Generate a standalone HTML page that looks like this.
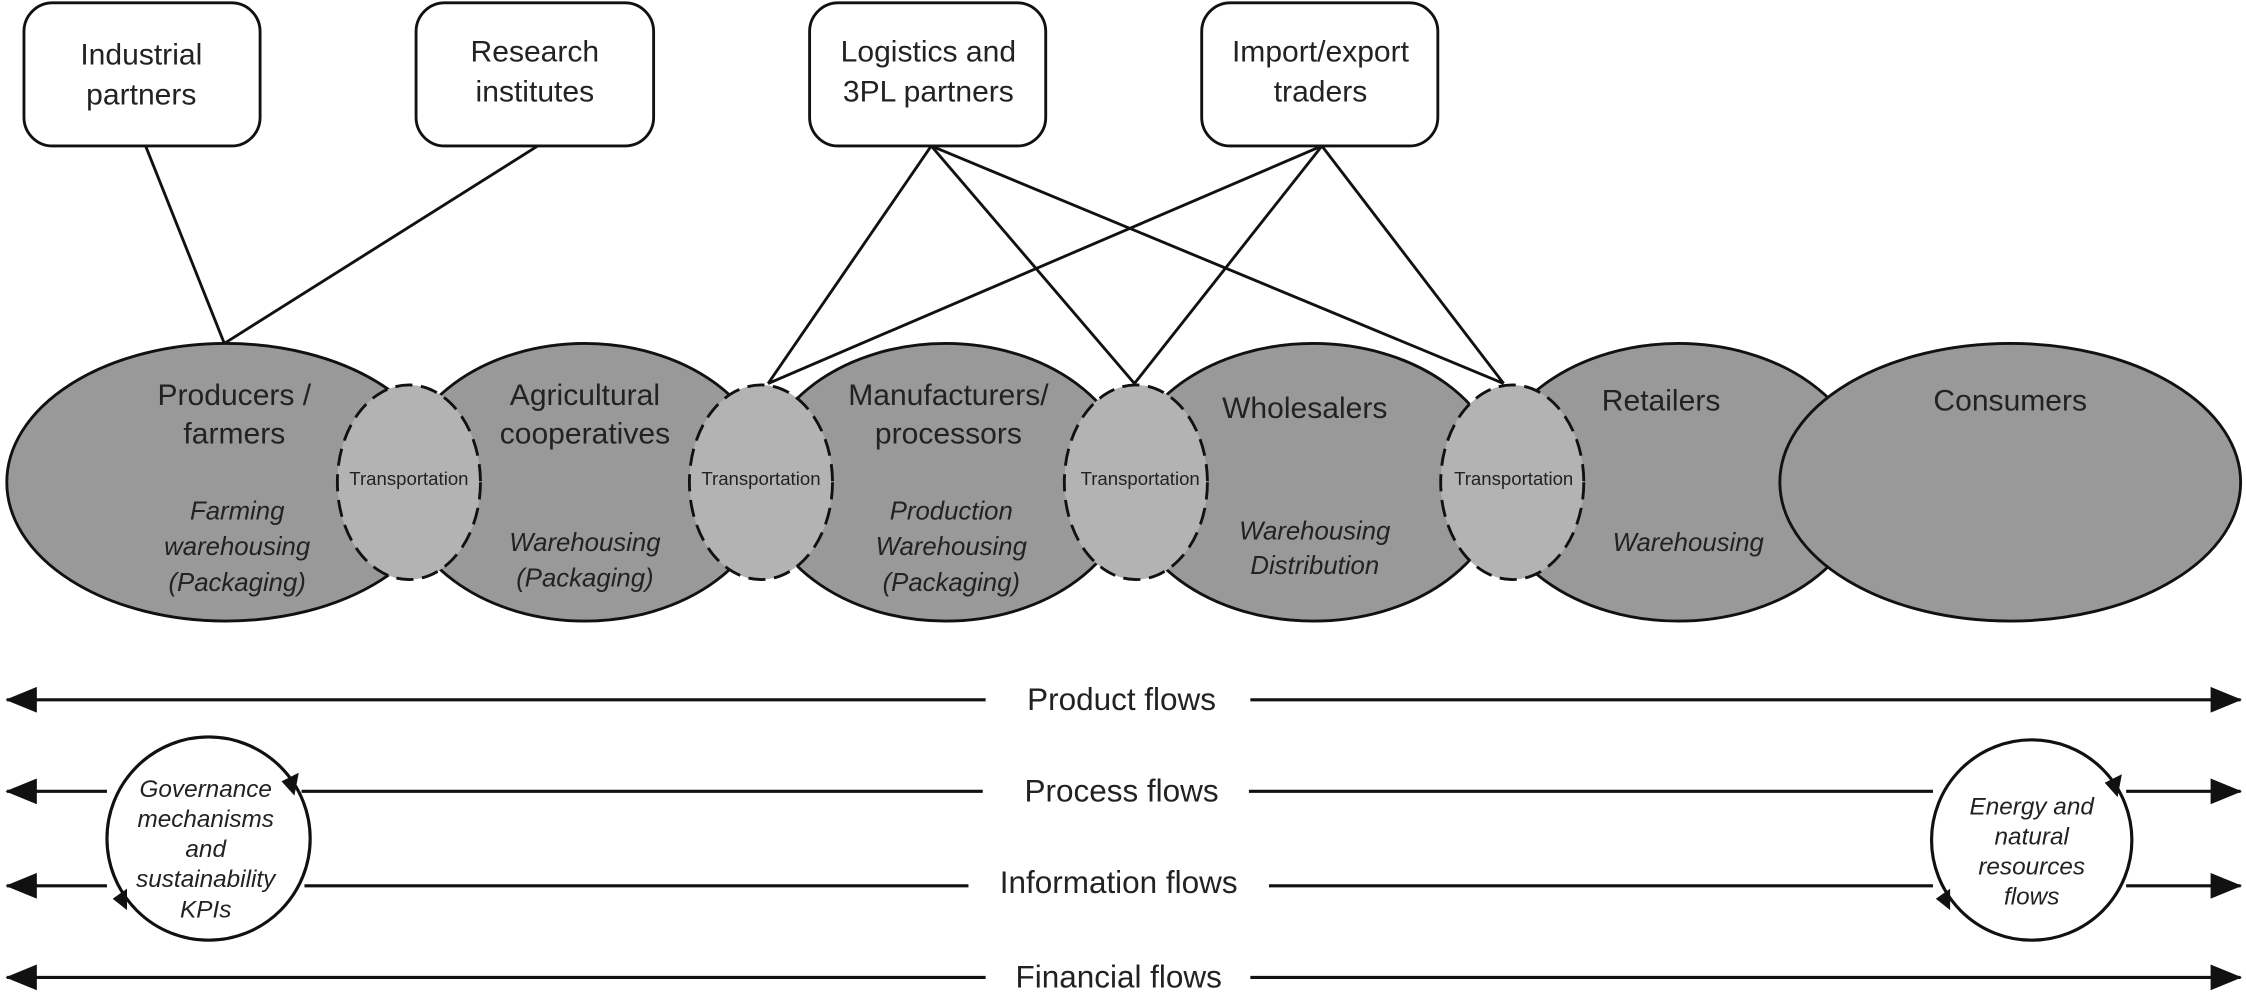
<!DOCTYPE html>
<html><head><meta charset="utf-8"><style>
html,body{margin:0;padding:0;background:#fff;}
svg{display:block;}
text{font-family:"Liberation Sans",sans-serif;fill:#222;}
.t{font-size:21px;text-anchor:middle;}
.f{font-size:22px;text-anchor:middle;}
.i{font-size:18px;font-style:italic;text-anchor:middle;}
.s{font-size:13px;text-anchor:middle;}
.c{font-size:17px;font-style:italic;text-anchor:middle;}
</style></head><body>
<svg width="2246" height="996" viewBox="0 0 1568 696" xmlns="http://www.w3.org/2000/svg">
<defs>
<marker id="a" markerWidth="22" markerHeight="18" refX="21" refY="9" orient="auto-start-reverse" markerUnits="userSpaceOnUse" viewBox="0 0 22 18"><path d="M0,0 L22,9 L0,18 z" fill="#111"/></marker>
</defs>
<g stroke="#111" stroke-width="2" fill="none">
<line x1="101" y1="102" x2="156" y2="240"/>
<line x1="375" y1="102" x2="156" y2="240"/>
<line x1="650" y1="102" x2="536" y2="268"/>
<line x1="650" y1="102" x2="792" y2="268"/>
<line x1="650" y1="102" x2="1050" y2="268"/>
<line x1="923" y1="102" x2="536" y2="268"/>
<line x1="923" y1="102" x2="792" y2="268"/>
<line x1="923" y1="102" x2="1050" y2="268"/>
</g>
<g fill="#fff" stroke="#111" stroke-width="2">
<rect x="16" y="2" width="165" height="100" rx="20"/>
<rect x="290" y="2" width="166" height="100" rx="20"/>
<rect x="565" y="2" width="165" height="100" rx="20"/>
<rect x="839" y="2" width="165" height="100" rx="20"/>
</g>
<text class="t" x="98" y="45">Industrial</text><text class="t" x="98" y="73">partners</text>
<text class="t" x="373" y="43">Research</text><text class="t" x="373" y="71">institutes</text>
<text class="t" x="648" y="43">Logistics and</text><text class="t" x="648" y="71">3PL partners</text>
<text class="t" x="922" y="43">Import/export</text><text class="t" x="922" y="71">traders</text>
<g fill="#999" stroke="#111" stroke-width="2">
<ellipse cx="157" cy="337" rx="153" ry="97"/>
<ellipse cx="408" cy="337" rx="130" ry="97"/>
<ellipse cx="660" cy="337" rx="130" ry="97"/>
<ellipse cx="917" cy="337" rx="132" ry="97"/>
<ellipse cx="1172" cy="337" rx="132" ry="97"/>
<ellipse cx="1404" cy="337" rx="161" ry="97"/>
</g>
<g fill="#b3b3b3" stroke="#111" stroke-width="2" stroke-dasharray="12,6">
<ellipse cx="285" cy="337" rx="50" ry="68"/>
<ellipse cx="531" cy="337" rx="50" ry="68"/>
<ellipse cx="793" cy="337" rx="50" ry="68"/>
<ellipse cx="1056" cy="337" rx="50" ry="68"/>
</g>
<text class="s" x="285" y="339">Transportation</text>
<text class="s" x="531" y="339">Transportation</text>
<text class="s" x="796" y="339">Transportation</text>
<text class="s" x="1057" y="339">Transportation</text>
<text class="t" x="163" y="283">Producers /</text><text class="t" x="163" y="310">farmers</text>
<text class="i" x="165" y="363">Farming</text><text class="i" x="165" y="388">warehousing</text><text class="i" x="165" y="413">(Packaging)</text>
<text class="t" x="408" y="283">Agricultural</text><text class="t" x="408" y="310">cooperatives</text>
<text class="i" x="408" y="385">Warehousing</text><text class="i" x="408" y="410">(Packaging)</text>
<text class="t" x="662" y="283">Manufacturers/</text><text class="t" x="662" y="310">processors</text>
<text class="i" x="664" y="363">Production</text><text class="i" x="664" y="388">Warehousing</text><text class="i" x="664" y="413">(Packaging)</text>
<text class="t" x="911" y="292">Wholesalers</text>
<text class="i" x="918" y="377">Warehousing</text><text class="i" x="918" y="401">Distribution</text>
<text class="t" x="1160" y="287">Retailers</text>
<text class="i" x="1179" y="385">Warehousing</text>
<text class="t" x="1404" y="287">Consumers</text>
<g stroke="#111" stroke-width="2.2" fill="none">
<line x1="688" y1="489" x2="4" y2="489" marker-end="url(#a)"/>
<line x1="873" y1="489" x2="1565" y2="489" marker-end="url(#a)"/>
<line x1="74" y1="553" x2="4" y2="553" marker-end="url(#a)"/>
<line x1="210" y1="553" x2="686" y2="553"/>
<line x1="872" y1="553" x2="1350" y2="553"/>
<line x1="1485" y1="553" x2="1565" y2="553" marker-end="url(#a)"/>
<line x1="74" y1="619" x2="4" y2="619" marker-end="url(#a)"/>
<line x1="212" y1="619" x2="676" y2="619"/>
<line x1="886" y1="619" x2="1350" y2="619"/>
<line x1="1485" y1="619" x2="1565" y2="619" marker-end="url(#a)"/>
<line x1="688" y1="683" x2="4" y2="683" marker-end="url(#a)"/>
<line x1="873" y1="683" x2="1565" y2="683" marker-end="url(#a)"/>
<circle cx="145" cy="586" r="71"/>
<circle cx="1419" cy="587" r="70"/>
</g>
<path d="M208,540 l-3,16 l-9,-10 z" fill="#111"/>
<path d="M88,636 l0,-15 l-10,7 z" fill="#111"/>
<path d="M1482,541 l-3,16 l-9,-10 z" fill="#111"/>
<path d="M1362,636 l0,-15 l-10,7 z" fill="#111"/>
<text class="f" x="783" y="496">Product flows</text>
<text class="f" x="783" y="560">Process flows</text>
<text class="f" x="781" y="624">Information flows</text>
<text class="f" x="781" y="690">Financial flows</text>
<text class="c" x="143" y="557">Governance</text><text class="c" x="143" y="578">mechanisms</text><text class="c" x="143" y="599">and</text><text class="c" x="143" y="620">sustainability</text><text class="c" x="143" y="641">KPIs</text>
<text class="c" x="1419" y="569">Energy and</text><text class="c" x="1419" y="590">natural</text><text class="c" x="1419" y="611">resources</text><text class="c" x="1419" y="632">flows</text>
</svg>
</body></html>
